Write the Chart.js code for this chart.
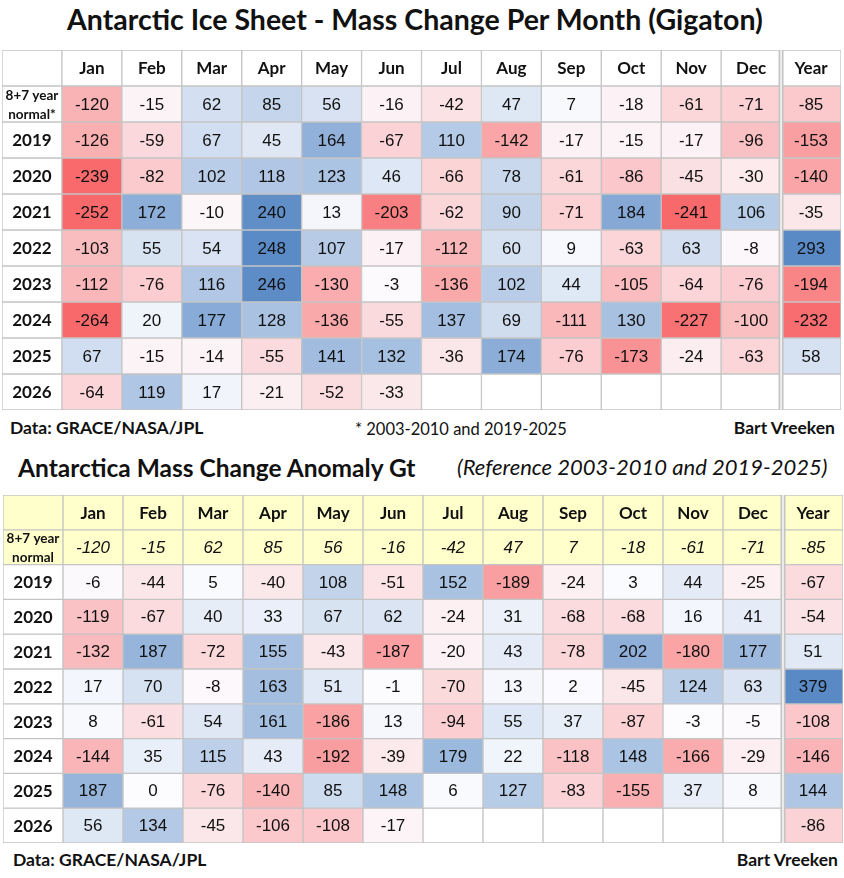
<!DOCTYPE html>
<html>
<head>
<meta charset="utf-8">
<script src="https://cdn.jsdelivr.net/npm/chart.js@4.4.1/dist/chart.umd.min.js"></script>
<style>
    body { margin: 0; background: #fff; width: 844px; height: 878px; position: relative; overflow: hidden; font-family: Lato, sans-serif; color: #111; }
    .txt { position: absolute; white-space: nowrap; }
    .box { position: absolute; }
</style>
</head>
<body>
<div class="txt" style="left:0;width:830px;text-align:center;top:2px;font:bold 28.5px/34px Lato">Antarctic Ice Sheet - Mass Change Per Month (Gigaton)</div>
<div class="box" style="left:2px;top:50px;width:839px;height:360px"><canvas id="massChart"></canvas></div>
<div class="txt" style="left:10px;top:418px;font:bold 17.5px/20px Lato">Data: GRACE/NASA/JPL</div>
<div class="txt" style="left:355px;top:419px;font:16.5px/20px Lato">* 2003-2010 and 2019-2025</div>
<div class="txt" style="right:9px;top:418px;font:bold 17.5px/20px Lato">Bart Vreeken</div>

<div class="txt" style="left:18px;top:454px;font:bold 24.5px/28px Lato">Antarctica Mass Change Anomaly Gt</div>
<div class="txt" style="left:457px;top:453px;font:italic 22px/28px Lato">(Reference 2003-2010 and 2019-2025)</div>
<div class="box" style="left:3px;top:495px;width:840px;height:348px"><canvas id="anomalyChart"></canvas></div>
<div class="txt" style="left:13px;top:850px;font:bold 17.5px/20px Lato">Data: GRACE/NASA/JPL</div>
<div class="txt" style="right:6px;top:850px;font:bold 17.5px/20px Lato">Bart Vreeken</div>

<script>
// Column and row labels
const months = ['Jan', 'Feb', 'Mar', 'Apr', 'May', 'Jun', 'Jul', 'Aug', 'Sep', 'Oct', 'Nov', 'Dec', 'Year'];
const years = ['2019', '2020', '2021', '2022', '2023', '2024', '2025', '2026'];

// 8+7 year normal (2003-2010 and 2019-2025)
const normal = [-120, -15, 62, 85, 56, -16, -42, 47, 7, -18, -61, -71, -85];

// Mass change per month (Gt)
const mass2019 = [-126, -59, 67, 45, 164, -67, 110, -142, -17, -15, -17, -96, -153];
const mass2020 = [-239, -82, 102, 118, 123, 46, -66, 78, -61, -86, -45, -30, -140];
const mass2021 = [-252, 172, -10, 240, 13, -203, -62, 90, -71, 184, -241, 106, -35];
const mass2022 = [-103, 55, 54, 248, 107, -17, -112, 60, 9, -63, 63, -8, 293];
const mass2023 = [-112, -76, 116, 246, -130, -3, -136, 102, 44, -105, -64, -76, -194];
const mass2024 = [-264, 20, 177, 128, -136, -55, 137, 69, -111, 130, -227, -100, -232];
const mass2025 = [67, -15, -14, -55, 141, 132, -36, 174, -76, -173, -24, -63, 58];
const mass2026 = [-64, 119, 17, -21, -52, -33, null, null, null, null, null, null, null];

// Anomaly vs normal (Gt)
const anom2019 = [-6, -44, 5, -40, 108, -51, 152, -189, -24, 3, 44, -25, -67];
const anom2020 = [-119, -67, 40, 33, 67, 62, -24, 31, -68, -68, 16, 41, -54];
const anom2021 = [-132, 187, -72, 155, -43, -187, -20, 43, -78, 202, -180, 177, 51];
const anom2022 = [17, 70, -8, 163, 51, -1, -70, 13, 2, -45, 124, 63, 379];
const anom2023 = [8, -61, 54, 161, -186, 13, -94, 55, 37, -87, -3, -5, -108];
const anom2024 = [-144, 35, 115, 43, -192, -39, 179, 22, -118, 148, -166, -29, -146];
const anom2025 = [187, 0, -76, -140, 85, 148, 6, 127, -83, -155, 37, 8, 144];
const anom2026 = [56, 134, -45, -106, -108, -17, null, null, null, null, null, null, -86];

const massRows = [mass2019, mass2020, mass2021, mass2022, mass2023, mass2024, mass2025, mass2026];
const anomRows = [anom2019, anom2020, anom2021, anom2022, anom2023, anom2024, anom2025, anom2026];

// Excel-like red - white - blue scale
const RED = [248, 105, 107], MID = [252, 252, 255], BLUE = [90, 138, 198];

function heatColor(v, negFull, posFull) {
    if (v === null || v === undefined) return '#ffffff';
    const end = v < 0 ? RED : BLUE;
    const t = Math.min(Math.abs(v) / (v < 0 ? negFull : posFull), 1);
    const c = MID.map((m, i) => Math.round(m + (end[i] - m) * t));
    return `rgb(${c[0]},${c[1]},${c[2]})`;
}

const VALUE_FONT = '17px "Liberation Sans", Arial, sans-serif';
const ITALIC_FONT = 'italic 17px "Liberation Sans", Arial, sans-serif';
const HEAD_FONT = 'bold 17px Lato, sans-serif';
const SMALL_HEAD_FONT = 'bold 13.5px Lato, sans-serif';
const YELLOW = '#ffffcc';
const GRID = '#c4c4c4';

// draws the value text in each cell and the double line before "Year"
const cellTextPlugin = {
    id: 'cellText',
    afterDatasetsDraw(chart) {
        const ctx = chart.ctx;
        ctx.save();
        ctx.textAlign = 'center';
        ctx.textBaseline = 'middle';
        ctx.fillStyle = '#111';
        chart.data.datasets.forEach((ds, i) => {
            const meta = chart.getDatasetMeta(i);
            meta.data.forEach((bar, j) => {
                const txt = ds.texts[j];
                if (txt === null || txt === '') return;
                const p = bar.getCenterPoint();
                ctx.font = ds.fonts[j];
                const lines = String(txt).split('\n');
                lines.forEach((ln, k) => {
                    ctx.fillText(ln, p.x, p.y + 1 + (k - (lines.length - 1) / 2) * 19);
                });
            });
        });

        const first = chart.getDatasetMeta(0).data;
        const bx = (first[12].x + first[13].x) / 2;
        const area = chart.chartArea;
        ctx.fillStyle = GRID;
        ctx.fillRect(bx - 2.5, area.top, 5, area.bottom - area.top);
        ctx.fillStyle = '#f4f4f4';
        ctx.fillRect(bx - 0.8, area.top, 1.6, area.bottom - area.top);
        ctx.restore();
    }
};

function buildRows(rows, normalLabel, yellowTop, negFull, posFull) {
    const datasets = [];
    const addRow = (r, label, values, opts) => {
        datasets.push({
            data: [label].concat(values).map(() => [r, r + 1]),
            texts: [label].concat(values.map(v => (v === null ? '' : String(v)))),
            fonts: [opts.labelFont].concat(values.map(() => opts.font)),
            backgroundColor: [opts.labelBg].concat(values.map(v => opts.bg ? opts.bg : heatColor(v, negFull, posFull))),
            borderColor: GRID,
            borderWidth: 1,
            borderSkipped: false,
            grouped: false,
            barPercentage: 1,
            categoryPercentage: 1,
        });
    };
    addRow(0, '', months, { labelFont: HEAD_FONT, font: HEAD_FONT, labelBg: yellowTop ? YELLOW : '#fff', bg: yellowTop ? YELLOW : '#fff' });
    addRow(1, normalLabel, normal, {
        labelFont: SMALL_HEAD_FONT,
        font: yellowTop ? ITALIC_FONT : VALUE_FONT,
        labelBg: yellowTop ? YELLOW : '#fff',
        bg: yellowTop ? YELLOW : null,
    });
    rows.forEach((vals, i) => {
        addRow(i + 2, years[i], vals, { labelFont: HEAD_FONT, font: VALUE_FONT, labelBg: '#fff', bg: null });
    });
    return datasets;
}

function initTable(canvasId, rows, normalLabel, yellowTop, negFull, posFull) {
    const ctx = document.getElementById(canvasId);
    if (!ctx) return;

    new Chart(ctx, {
        type: 'bar',
        data: {
            labels: ['label'].concat(months),
            datasets: buildRows(rows, normalLabel, yellowTop, negFull, posFull)
        },
        options: {
            responsive: true,
            maintainAspectRatio: false,
            animation: false,
            events: [],
            layout: { padding: 0 },
            plugins: {
                legend: { display: false },
                tooltip: { enabled: false },
            },
            scales: {
                x: { type: 'category', display: false, offset: true },
                y: { type: 'linear', display: false, min: 0, max: rows.length + 2, reverse: true }
            }
        },
        plugins: [cellTextPlugin]
    });
}

function initAllCharts() {
    initTable('massChart', massRows, '8+7 year\nnormal*', false, 240, 250);
    initTable('anomalyChart', anomRows, '8+7 year\nnormal', true, 300, 300);
}

if (document.readyState === 'loading') {
    document.addEventListener('DOMContentLoaded', initAllCharts);
} else {
    initAllCharts();
}
</script>
</body>
</html>
